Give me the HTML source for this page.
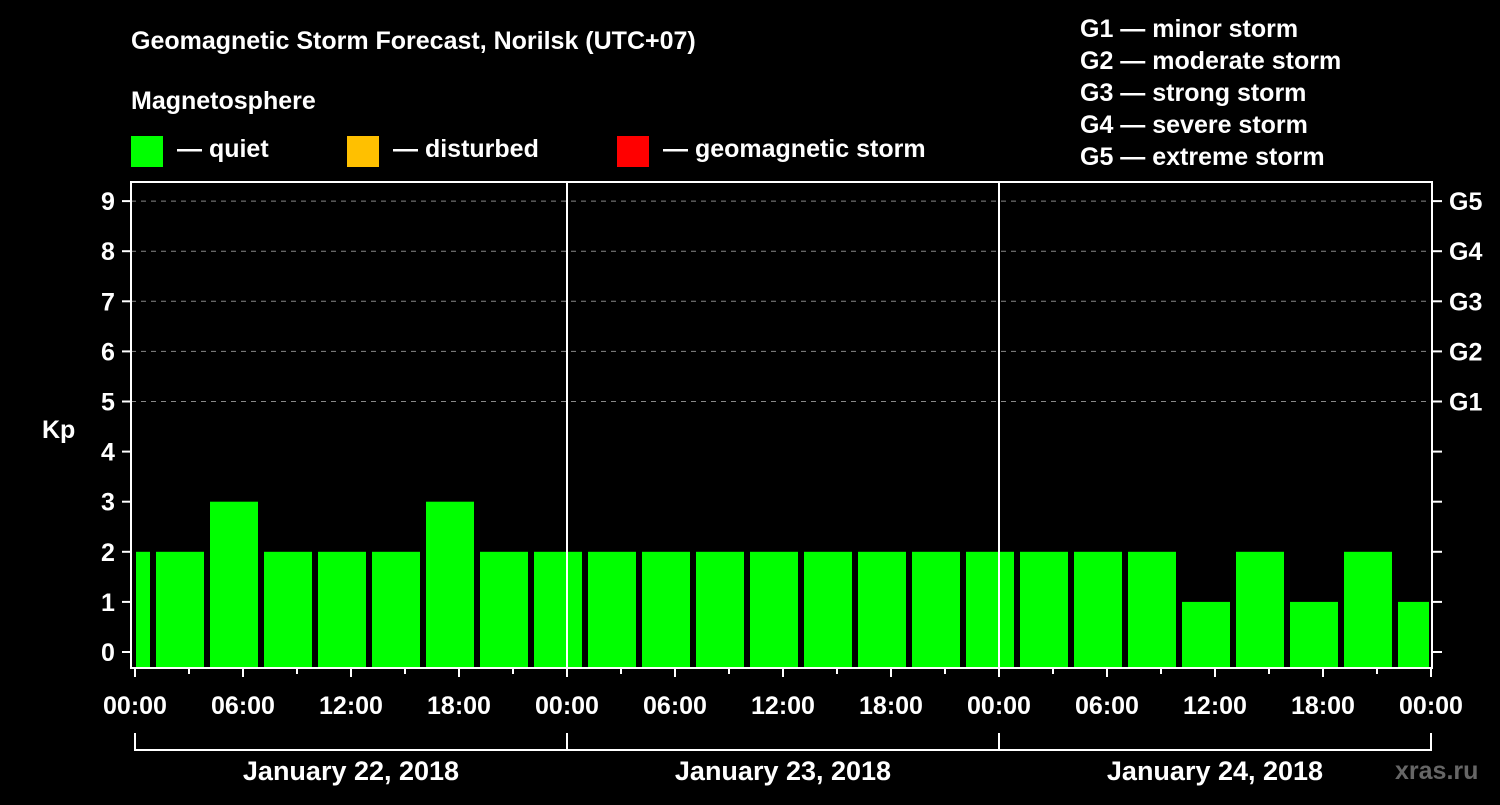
<!DOCTYPE html>
<html><head><meta charset="utf-8"><style>
body{margin:0;background:#000;width:1500px;height:800px;overflow:hidden;font-family:"Liberation Sans",sans-serif}
</style></head><body>
<svg width="1500" height="800" viewBox="0 0 1500 800" xmlns="http://www.w3.org/2000/svg" font-family="Liberation Sans, sans-serif" font-weight="bold" fill="#fff">
<text x="131" y="49" font-size="25">Geomagnetic Storm Forecast, Norilsk (UTC+07)</text>
<text x="131" y="109" font-size="25">Magnetosphere</text>
<rect x="131" y="136" width="32" height="31" fill="#00ff00"/>
<text x="177" y="157" font-size="25">— quiet</text>
<rect x="347" y="136" width="32" height="31" fill="#ffc000"/>
<text x="393" y="157" font-size="25">— disturbed</text>
<rect x="617" y="136" width="32" height="31" fill="#ff0000"/>
<text x="663" y="157" font-size="25">— geomagnetic storm</text>
<g font-size="25">
<text x="1080" y="37">G1 — minor storm</text>
<text x="1080" y="69">G2 — moderate storm</text>
<text x="1080" y="101">G3 — strong storm</text>
<text x="1080" y="133">G4 — severe storm</text>
<text x="1080" y="165">G5 — extreme storm</text>
</g>
<text x="42" y="438" font-size="25">Kp</text>
<g id="grid"></g>
<g id="bars"></g>
<g id="axes"></g>
<text x="1395" y="779" font-size="25" fill="#666">xras.ru</text>
</svg>
<script>
const kpValues=[2,2,3,2,2,2,3,2,2,2,2,2,2,2,2,2,2,2,2,2,1,2,1,2,1];
const yTicks=[0,1,2,3,4,5,6,7,8,9];
const gLabels=["G1","G2","G3","G4","G5"];
const xLabels=["00:00","06:00","12:00","18:00","00:00","06:00","12:00","18:00","00:00","06:00","12:00","18:00","00:00"];
const dayLabels=["January 22, 2018","January 23, 2018","January 24, 2018"];
const firstBinHour=-2;
const NS="http://www.w3.org/2000/svg";
const X0=135,HPX=18,L=131,R=1432,T=182,B=668;
const xs=h=>X0+h*HPX;
const ys=k=>652-50.1*k;
function mk(tag,attrs,parent){const e=document.createElementNS(NS,tag);for(const k in attrs)e.setAttribute(k,attrs[k]);document.getElementById(parent).appendChild(e);return e;}
yTicks.forEach(k=>{
 if(k>=5){const g=mk('line',{x1:L,x2:R,y1:ys(k),y2:ys(k),stroke:'#888','stroke-dasharray':'5,5','stroke-width':1},'grid');
 
 }
 const t=mk('line',{x1:122,x2:L,y1:ys(k),y2:ys(k),stroke:'#fff','stroke-width':2},'axes');
 
 
 const t2=mk('line',{x1:R,x2:R+10,y1:ys(k),y2:ys(k),stroke:'#fff','stroke-width':2},'axes');
 
 
 const tx=mk('text',{x:108,y:ys(k)+9,'font-size':25,'text-anchor':'middle'},'axes');tx.textContent=k;
 
 
});
gLabels.forEach((g,i)=>{const tx=mk('text',{x:1449,y:ys(5+i)+9,'font-size':25},'axes');tx.textContent=g;
 
 });
kpValues.forEach((v,i)=>{
 let a=xs(firstBinHour+3*i)+3,b=xs(firstBinHour+3*i+3)-3;
 a=Math.max(a,L+5);b=Math.min(b,R-3);
 const r=mk('rect',{x:a,y:ys(v),width:b-a,height:667-ys(v),fill:'#00ff00'},'bars');
 
 
});
// day separators
[1,2].forEach(d=>{const l=mk('line',{x1:xs(24*d),x2:xs(24*d),y1:T,y2:B,stroke:'#fff','stroke-width':2},'axes');
 
 });
const fr=mk('rect',{x:L,y:T,width:R-L,height:B-T,fill:'none',stroke:'#fff','stroke-width':2},'axes');


for(let h=0;h<=72;h+=3){const maj=h%6===0;
 const l=mk('line',{x1:xs(h),x2:xs(h),y1:B,y2:B+(maj?9:6),stroke:'#fff','stroke-width':2},'axes');
 
 }
xLabels.forEach((s,i)=>{const tx=mk('text',{x:xs(6*i),y:714,'font-size':25,'text-anchor':'middle'},'axes');tx.textContent=s;
 
 });
const br=mk('path',{d:`M${xs(0)},733 V750 H${xs(72)} V733 M${xs(24)},733 V750 M${xs(48)},733 V750`,stroke:'#fff','stroke-width':2,fill:'none'},'axes');


dayLabels.forEach((s,i)=>{const tx=mk('text',{x:xs(24*i+12),y:780,'font-size':27,'text-anchor':'middle'},'axes');tx.textContent=s;
 
 });
</script>
</body></html>
